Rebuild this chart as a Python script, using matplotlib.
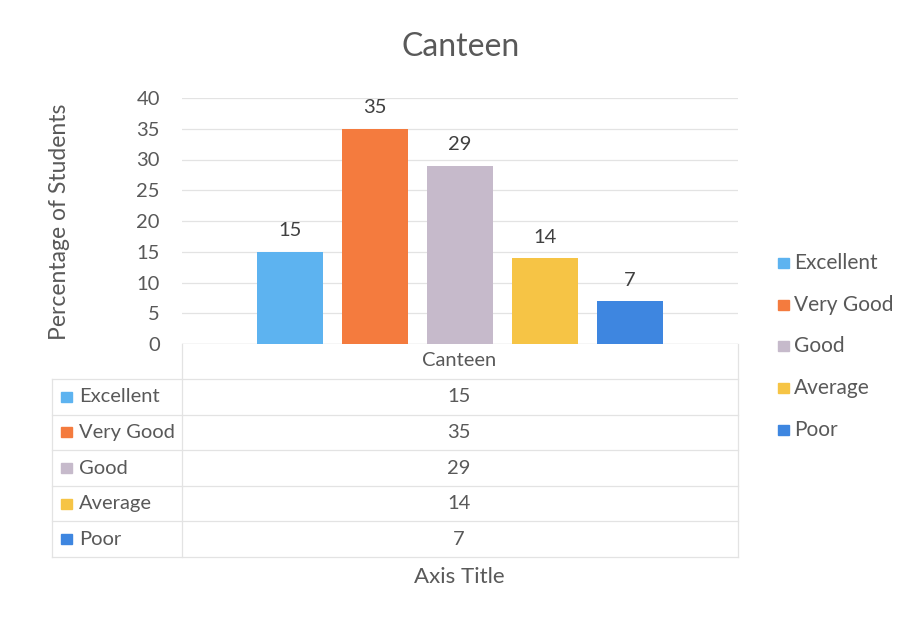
import matplotlib.pyplot as plt
from matplotlib.patches import Rectangle
from matplotlib.lines import Line2D

categories = ["Excellent", "Very Good", "Good", "Average", "Poor"]
values = [15, 35, 29, 14, 7]
colors = ["#5DB3F0", "#F47B3E", "#C6BACB", "#F6C445", "#3E86E0"]
group_label = "Canteen"
y_ticks = [0, 5, 10, 15, 20, 25, 30, 35, 40]

plt.rcParams['font.family'] = ['Lato', 'DejaVu Sans']
TXT = "#595959"
GRID = "#E3E3E3"
W, H = 909, 619


def fx(px):
    return px / W


def fy(py):
    return 1 - py / H


fig = plt.figure(figsize=(9.09, 6.19), dpi=100)
fig.patch.set_facecolor("white")

# plot area
left, right, top, bottom = 182, 738, 98, 344
ax = fig.add_axes([fx(left), fy(bottom), fx(right - left), fy(top) - fy(bottom)])
spacing = 85
half = (right - left) / spacing / 2
x = list(range(len(categories)))
ax.bar(x, values, width=66 / spacing, color=colors, zorder=3)
for xi, v in zip(x, values):
    ax.text(xi, v + 2.0, str(v), ha="center", va="bottom", fontsize=14.5, color="#404040")
ax.set_xlim(2 - half, 2 + half)
ax.set_ylim(0, 40)
ax.set_yticks(y_ticks)
ax.set_xticks([])
ax.tick_params(axis="y", length=0, labelsize=14.5, labelcolor=TXT, pad=16)
ax.grid(axis="y", color=GRID, linewidth=0.9, zorder=0)
for s in ax.spines.values():
    s.set_visible(False)
ax.axhline(0, color="#D9D9D9", linewidth=0.9, zorder=2)

fig.text(fx(461), fy(47), "Canteen", ha="center", va="center", fontsize=23, color=TXT)
fig.text(fx(60), fy(222), "Percentage of Students", ha="center", va="center",
         rotation=90, fontsize=16.5, color=TXT)
fig.text(fx(459), fy(577), "Axis Title", ha="center", va="center", fontsize=16, color=TXT)

# data table below the plot area
line_kw = dict(color=GRID, linewidth=0.9, transform=fig.transFigure)
row_top = 379
row_h = 35.6
fig.add_artist(Line2D([fx(left), fx(left)], [fy(bottom), fy(row_top + row_h * 5)], **line_kw))
fig.add_artist(Line2D([fx(right), fx(right)], [fy(bottom), fy(row_top + row_h * 5)], **line_kw))
fig.add_artist(Line2D([fx(52), fx(52)], [fy(row_top), fy(row_top + row_h * 5)], **line_kw))
for i in range(6):
    yy = fy(row_top + row_h * i)
    fig.add_artist(Line2D([fx(52), fx(right)], [yy, yy], **line_kw))
fig.text(fx(459), fy(361), group_label, ha="center", va="center", fontsize=14.5, color=TXT)
for i, (cat, v, c) in enumerate(zip(categories, values, colors)):
    yc = row_top + row_h * (i + 0.5)
    fig.add_artist(Rectangle((fx(61), fy(yc + 5)), fx(11), fy(yc - 5) - fy(yc + 5),
                             color=c, transform=fig.transFigure))
    fig.text(fx(79), fy(yc), cat, ha="left", va="center", fontsize=14.5, color=TXT)
    fig.text(fx(459), fy(yc), str(v), ha="center", va="center", fontsize=14.5, color=TXT)

# legend on the right
for i, (cat, c) in enumerate(zip(categories, colors)):
    yc = 263 + 41.7 * i
    fig.add_artist(Rectangle((fx(778), fy(yc + 5)), fx(11), fy(yc - 5) - fy(yc + 5),
                             color=c, transform=fig.transFigure))
    fig.text(fx(794), fy(yc), cat, ha="left", va="center", fontsize=15, color=TXT)

fig.savefig("out.png", dpi=100, facecolor="white")
